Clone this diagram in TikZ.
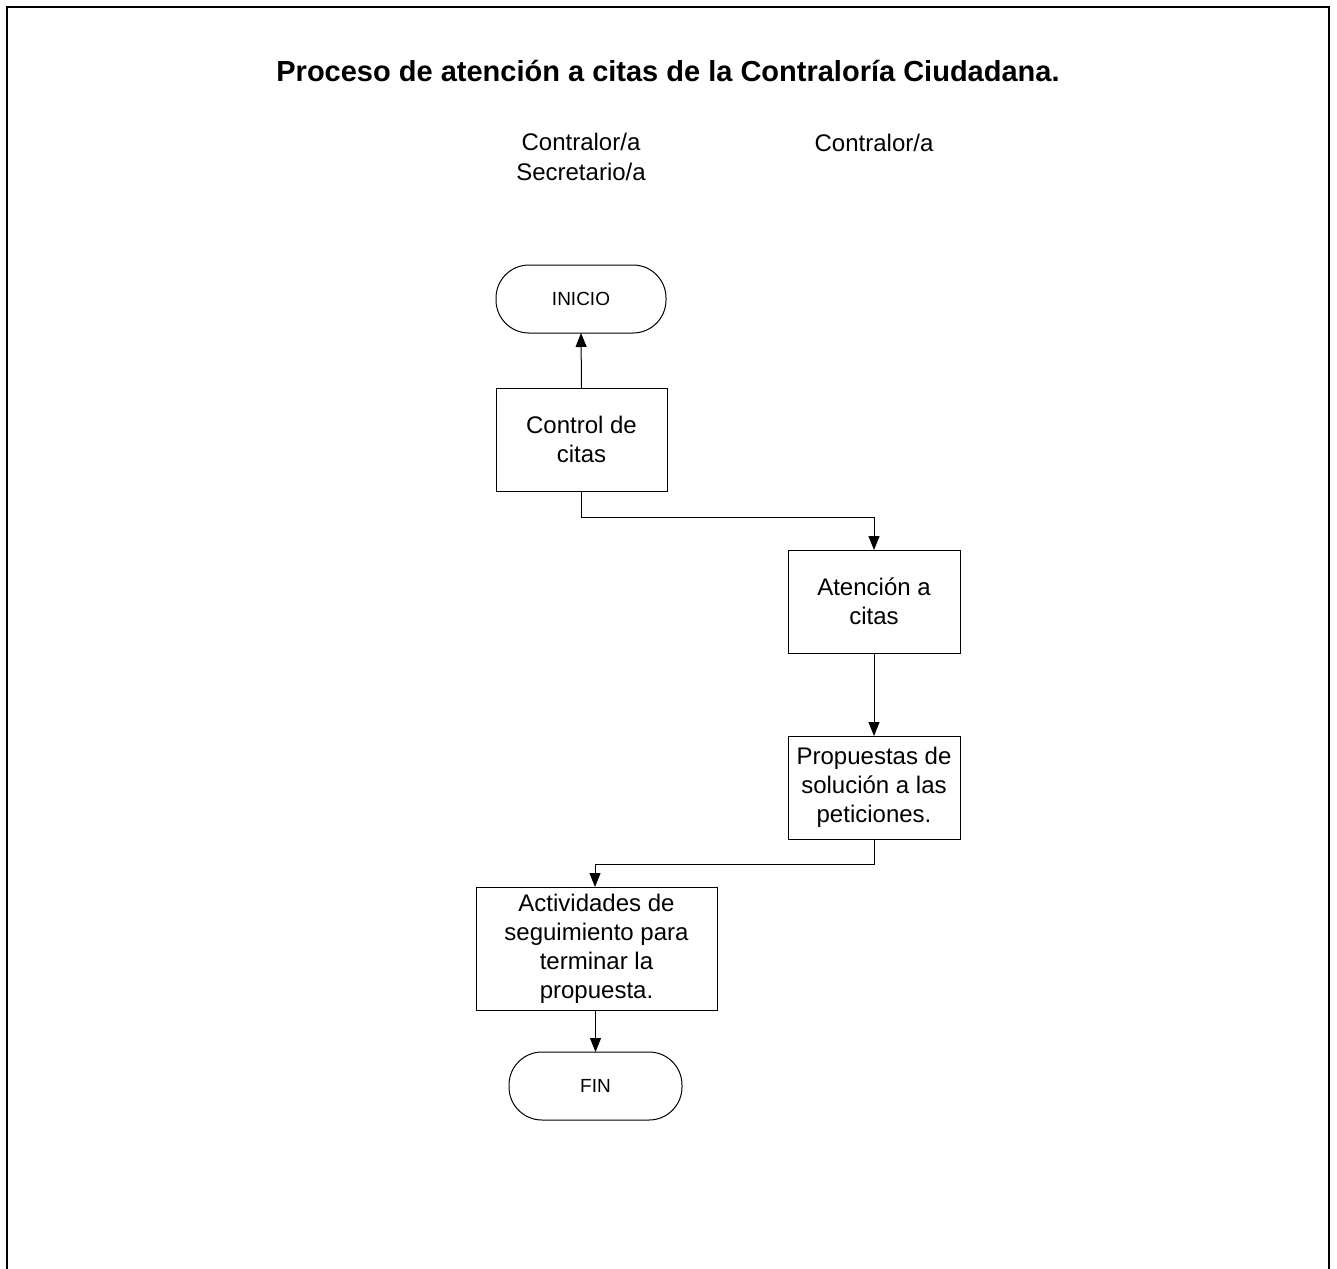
\documentclass[tikz,border=0pt]{standalone}
\usepackage{fontspec}
\setmainfont{Liberation Sans}
\usetikzlibrary{arrows.meta}
\begin{document}
\begin{tikzpicture}[x=1pt,y=-1pt,
  every node/.style={inner sep=0pt,outer sep=0pt},
  procbox/.style={draw,line width=1pt,align=center,font=\fontsize{24}{29}\selectfont},
  terminal/.style={draw,line width=1pt,rounded corners=33pt,minimum width=170pt,minimum height=68pt,font=\fontsize{19}{22}\selectfont},
  lane/.style={align=center,font=\fontsize{24}{30}\selectfont},
  flow/.style={line width=1pt,-{Triangle[length=14pt,width=11pt]}}]
  \useasboundingbox (0,0) rectangle (1337,1268);
  % page frame
  \draw[line width=2.5pt] (7,1280) -- (7,7) -- (1329,7) -- (1329,1280);
  % title and lane headings
  \node[font=\bfseries\fontsize{29}{33}\selectfont] (title) at (668,71) {Proceso de atención a citas de la Contraloría Ciudadana.};
  \node[lane] (lane1) at (581,157) {Contralor/a\\Secretario/a};
  \node[lane] (lane2) at (874,143) {Contralor/a};
  % flow nodes
  \node[terminal] (inicio) at (581,299) {INICIO};
  \node[procbox,minimum width=171pt,minimum height=103pt] (control) at (581.5,439.5) {Control de\\citas};
  \node[procbox,minimum width=172pt,minimum height=103pt] (atencion) at (874,601.5) {Atención a\\citas};
  \node[procbox,minimum width=172pt,minimum height=103pt] (propuestas) at (874,787.5) {Propuestas de\\solución a las\\peticiones.};
  \node[procbox,minimum width=241pt,minimum height=123pt] (actividades) at (596.5,948.5) {Actividades de\\seguimiento para\\terminar la\\propuesta.};
  \node[terminal,minimum width=173pt] (fin) at (595.5,1086) {FIN};
  % connectors
  \draw[flow] (control.north) -- (inicio.south);
  \draw[flow] (control.south) |- (874,517) -- (atencion.north);
  \draw[flow] (atencion.south) -- (propuestas.north);
  \draw[flow] (propuestas.south) |- (595,864) -- (595,887);
  \draw[flow] (actividades.south -| fin.north) -- (fin.north);
\end{tikzpicture}
\end{document}
